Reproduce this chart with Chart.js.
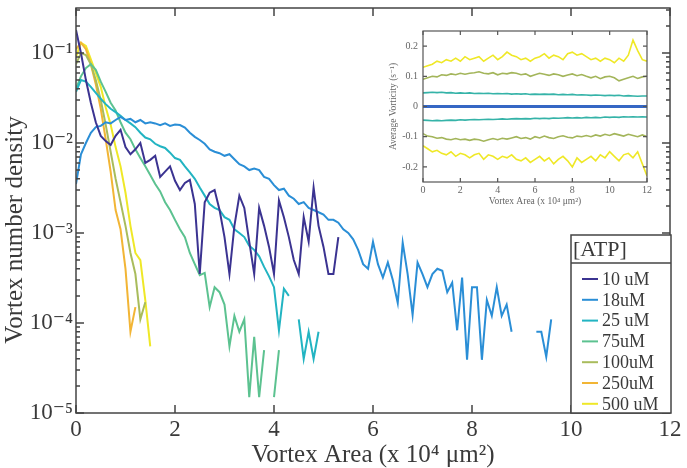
<!DOCTYPE html>
<html lang="en">
<head>
<meta charset="UTF-8">
<title>Vortex number density</title>
<script src="https://cdn.jsdelivr.net/npm/chart.js"></script>
<style>
    body { margin: 0; background: #fff; }
    .wrap { position: relative; width: 687px; height: 468px; }
    #mainChart { position: absolute; left: 0; top: 0; }
    #insetChart { position: absolute; left: 380px; top: 25px; }
</style>
</head>
<body>
<div class="wrap">
    <canvas id="mainChart" width="687" height="468"></canvas>
    <canvas id="insetChart" width="280" height="195"></canvas>
</div>
<script>
    // histogram bin width (x 10^4 um^2)
    const binStep = 0.1;

    const atpLabels = ['10 uM', '18uM', '25 uM', '75uM', '100uM', '250uM', '500 uM'];
    const atpColors = ['#3b3391', '#2a8ed6', '#22b4c2', '#5cc290', '#a9bc5c', '#f2b535', '#efe827'];

    const density10 = [0.18, 0.10, 0.05, 0.028, 0.017, 0.012, 0.0105, 0.0095, 0.012, 0.014,
        0.009, 0.0075, 0.0085, 0.010, 0.006, 0.0065, 0.0072, 0.0042, 0.0048, 0.0055,
        0.0038, 0.003, 0.0036, 0.0039, 0.0021, 0.00035, 0.0022, 0.0028, 0.0030, 0.0018,
        0.0009, 0.00035, 0.0012, 0.0026, 0.0019, 0.0008, 0.00035, 0.0019, 0.0012, 0.0007,
        0.00035, 0.0023, 0.0015, 0.0009, 0.0005, 0.00035, 0.0015, 0.0008, 0.0032, 0.0012,
        0.0007, 0.00035, 0.00035, 0.0009];
    const density18 = [0.0035, 0.0075, 0.010, 0.013, 0.015, 0.0155, 0.017, 0.0165, 0.018, 0.0195,
        0.018, 0.0185, 0.017, 0.018, 0.0165, 0.017, 0.0165, 0.0158, 0.0165, 0.0155,
        0.016, 0.0158, 0.0148, 0.013, 0.0117, 0.0108, 0.0098, 0.0085, 0.0080, 0.0077,
        0.0072, 0.0075, 0.0066, 0.0058, 0.0055, 0.0050, 0.0052, 0.0050, 0.0042, 0.0040,
        0.0034, 0.0030, 0.0031, 0.0026, 0.0024, 0.0021, 0.0022, 0.0019, 0.0018, 0.0017,
        0.0016, 0.0014, 0.0014, 0.0013, 0.0011, 0.0010, 0.00085, 0.00065, 0.00045, 0.0004,
        0.0008, 0.00045, 0.00032, 0.00047, 0.00030, 0.000167, 0.00078, 0.00035, 0.000123, 0.00047,
        0.00035, 0.00025, 0.00035, 0.0004, 0.00038, 0.00022, 0.00028, 0.000083, 0.00032, 0.000039,
        0.00025, 0.00025, 0.000039, 0.00018, 0.00012, 0.00025, 0.00012, 0.00016, 0.00008, null,
        null, null, null, 0.00008, 0.00008, 0.000042, 0.00011];
    const density25 = [0.037, 0.05, 0.048, 0.042, 0.036, 0.031, 0.027, 0.024, 0.022, 0.020,
        0.018, 0.0165, 0.015, 0.013, 0.0115, 0.011, 0.0098, 0.0092, 0.0088, 0.0078,
        0.0068, 0.0065, 0.0055, 0.0047, 0.0040, 0.0032, 0.0026, 0.0021, 0.0019, 0.0018,
        0.0015, 0.0014, 0.0011, 0.0010, 0.0009, 0.00072, 0.00065, 0.00055, 0.00042, 0.00033,
        0.00025, 0.000083, 0.00024, 0.0002, null, 0.00011, 0.00004, 0.00008, 0.00004, 0.00008];
    const density75 = [0.04, 0.055, 0.068, 0.075, 0.065, 0.048, 0.037, 0.028, 0.023, 0.017,
        0.013, 0.011, 0.0085, 0.0068, 0.0055, 0.0044, 0.0035, 0.0029, 0.0022, 0.0018,
        0.0014, 0.0011, 0.0009, 0.0006, 0.00045, 0.00034, 0.00036, 0.00015, 0.00025, 0.00022,
        0.00016, 0.000055, 0.00012, 0.00008, 0.00011, 0.000015, 0.00007, 0.000015, 0.00005, null,
        0.000015, 0.00005];
    const density100 = [0.075, 0.1, 0.095, 0.075, 0.05, 0.03, 0.016, 0.008, 0.004, 0.0022,
        0.0012, 0.0006, 0.00035, 0.00011, 0.00017];
    const density250 = [0.11, 0.13, 0.11, 0.075, 0.045, 0.024, 0.011, 0.0048, 0.0018, 0.0011,
        0.0004, 0.00008, 0.00015];
    const density500 = [0.09, 0.13, 0.12, 0.085, 0.06, 0.042, 0.025, 0.016, 0.009, 0.0055,
        0.0028, 0.0012, 0.0006, 0.0005, 0.00018, 0.000055];

    const yTickValues = [1e-5, 1e-4, 1e-3, 1e-2, 1e-1];
    const yTickLabels = ['10\u207B\u2075', '10\u207B\u2074', '10\u207B\u00B3', '10\u207B\u00B2', '10\u207B\u00B9'];

    // inset: average vorticity vs vortex area
    const insetStep = 0.25;
    const vortYellowUp = [0.13, 0.135, 0.14, 0.15, 0.145, 0.155, 0.15, 0.16, 0.15, 0.165,
        0.155, 0.16, 0.165, 0.15, 0.16, 0.17, 0.155, 0.165, 0.18, 0.17,
        0.165, 0.155, 0.16, 0.15, 0.16, 0.165, 0.175, 0.16, 0.17, 0.165,
        0.155, 0.175, 0.18, 0.17, 0.175, 0.165, 0.155, 0.16, 0.15, 0.16,
        0.155, 0.145, 0.16, 0.15, 0.17, 0.22, 0.185, 0.155, 0.15];
    const vortYellowDown = [-0.13, -0.14, -0.15, -0.145, -0.155, -0.16, -0.15, -0.165, -0.155, -0.16,
        -0.17, -0.16, -0.155, -0.175, -0.16, -0.165, -0.175, -0.165, -0.17, -0.16,
        -0.175, -0.18, -0.17, -0.185, -0.175, -0.165, -0.18, -0.17, -0.19, -0.175,
        -0.165, -0.18, -0.2, -0.17, -0.185, -0.175, -0.165, -0.18, -0.16, -0.17,
        -0.15, -0.165, -0.18, -0.16, -0.155, -0.17, -0.15, -0.19, -0.23];
    const vortOliveUp = [0.09, 0.095, 0.1, 0.098, 0.105, 0.103, 0.108, 0.105, 0.11, 0.107,
        0.11, 0.112, 0.115, 0.11, 0.108, 0.112, 0.105, 0.11, 0.108, 0.112,
        0.11, 0.105, 0.108, 0.1, 0.105, 0.11, 0.107, 0.103, 0.108, 0.105,
        0.1, 0.104, 0.108, 0.102, 0.106, 0.1, 0.095, 0.1, 0.092, 0.098,
        0.1, 0.095, 0.085, 0.09, 0.095, 0.1, 0.093, 0.098, 0.1];
    const vortOliveDown = [-0.09, -0.098, -0.1, -0.105, -0.103, -0.108, -0.11, -0.106, -0.11, -0.108,
        -0.112, -0.108, -0.11, -0.115, -0.11, -0.106, -0.11, -0.105, -0.108, -0.104,
        -0.1, -0.106, -0.103, -0.108, -0.1, -0.104, -0.098, -0.103, -0.106, -0.1,
        -0.097, -0.102, -0.104, -0.098, -0.1, -0.096, -0.1, -0.094, -0.098, -0.092,
        -0.096, -0.09, -0.094, -0.098, -0.092, -0.096, -0.1, -0.094, -0.1];
    const vortTealUp = [0.045, 0.046, 0.047, 0.046, 0.047, 0.045, 0.046, 0.044, 0.045, 0.044,
        0.045, 0.043, 0.044, 0.043, 0.044, 0.042, 0.043, 0.042, 0.043, 0.041,
        0.042, 0.041, 0.042, 0.04, 0.041, 0.04, 0.041, 0.04, 0.041, 0.039,
        0.04, 0.039, 0.04, 0.038, 0.039, 0.038, 0.037, 0.038, 0.037, 0.036,
        0.037, 0.036, 0.037, 0.035, 0.036, 0.035, 0.034, 0.035, 0.035];
    const vortTealDown = [-0.045, -0.046, -0.047, -0.046, -0.047, -0.046, -0.045, -0.046, -0.044, -0.045,
        -0.044, -0.043, -0.044, -0.043, -0.042, -0.043, -0.042, -0.041, -0.042, -0.041,
        -0.04, -0.041, -0.04, -0.041, -0.039, -0.04, -0.039, -0.04, -0.038, -0.039,
        -0.038, -0.037, -0.038, -0.037, -0.038, -0.036, -0.037, -0.036, -0.037, -0.035,
        -0.036, -0.035, -0.036, -0.034, -0.035, -0.034, -0.035, -0.034, -0.035];
    const vortZero = [0, 0, 0, 0, 0, 0, 0];

    const serif = '"Liberation Serif", "DejaVu Serif", serif';
    const textColor = '#3a3a3a';

    function toPoints(values, step) {
        return values.map((v, i) => ({ x: +(i * step).toFixed(3), y: v }));
    }

    // chart.js pads the axes for half of the end labels; we place the box by hand
    function fixWidth(w) {
        return s => { s.width = w; s.paddingTop = 0; s.paddingBottom = 0; };
    }
    function fixHeight(h) {
        return s => { s.height = h; s.paddingLeft = 0; s.paddingRight = 0; };
    }

    // box round the plot with inward ticks (matlab look)
    function axisFrame(opts) {
        return {
            id: 'axisFrame',
            afterDatasetsDraw(chart) {
                const { ctx, chartArea: a, scales } = chart;
                ctx.save();
                ctx.strokeStyle = opts.color;
                ctx.lineWidth = opts.width;
                ctx.strokeRect(a.left, a.top, a.right - a.left, a.bottom - a.top);
                ctx.beginPath();
                scales.x.ticks.forEach(t => {
                    const px = scales.x.getPixelForValue(t.value);
                    ctx.moveTo(px, a.bottom); ctx.lineTo(px, a.bottom - opts.major);
                    ctx.moveTo(px, a.top); ctx.lineTo(px, a.top + opts.major);
                });
                opts.yTicks(scales.y).forEach(([v, len]) => {
                    const py = scales.y.getPixelForValue(v);
                    ctx.moveTo(a.left, py); ctx.lineTo(a.left + len, py);
                    ctx.moveTo(a.right, py); ctx.lineTo(a.right - len, py);
                });
                ctx.stroke();
                ctx.restore();
            }
        };
    }

    // y title sits a little below the middle in the original
    const yTitle = {
        id: 'yTitle',
        afterDraw(chart) {
            const ctx = chart.ctx;
            ctx.save();
            ctx.translate(15, 230);
            ctx.rotate(-Math.PI / 2);
            ctx.font = '25px ' + serif;
            ctx.fillStyle = textColor;
            ctx.textAlign = 'center';
            ctx.textBaseline = 'middle';
            ctx.fillText('Vortex number density', 0, 0);
            ctx.restore();
        }
    };

    const atpLegend = {
        id: 'atpLegend',
        afterDraw(chart) {
            const { ctx, chartArea: a } = chart;
            const w = 100, h = 178;
            const x0 = a.right - w + 1, y0 = a.bottom - h;
            ctx.save();
            ctx.fillStyle = '#fff';
            ctx.fillRect(x0, y0, w, h);
            ctx.strokeStyle = '#444';
            ctx.lineWidth = 1.5;
            ctx.strokeRect(x0, y0, w, h);
            ctx.beginPath();
            ctx.moveTo(x0, y0 + 28); ctx.lineTo(x0 + w, y0 + 28);
            ctx.stroke();
            ctx.fillStyle = textColor;
            ctx.textBaseline = 'middle';
            ctx.font = '22px ' + serif;
            ctx.fillText('[ATP]', x0 + 2, y0 + 15);
            ctx.font = '18px ' + serif;
            chart.data.datasets.forEach((ds, i) => {
                const y = y0 + 44 + i * 20.8;
                ctx.strokeStyle = ds.borderColor;
                ctx.lineWidth = 2;
                ctx.beginPath();
                ctx.moveTo(x0 + 11, y); ctx.lineTo(x0 + 27, y);
                ctx.stroke();
                ctx.fillText(ds.label, x0 + 31, y + 1);
            });
            ctx.restore();
        }
    };

    const mainSeries = [density10, density18, density25, density75, density100, density250, density500];

    new Chart(document.getElementById('mainChart'), {
        type: 'line',
        data: {
            datasets: mainSeries.map((vals, i) => ({
                label: atpLabels[i],
                data: toPoints(vals, binStep),
                borderColor: atpColors[i],
                borderWidth: 2,
                pointRadius: 0,
                tension: 0,
                spanGaps: false
            }))
        },
        options: {
            responsive: false,
            animation: false,
            layout: { padding: { top: 8, right: 17, left: 0, bottom: 0 } },
            plugins: { legend: { display: false }, tooltip: { enabled: false } },
            scales: {
                x: {
                    type: 'linear',
                    min: 0, max: 12,
                    grid: { display: false, drawTicks: false },
                    border: { display: false },
                    ticks: { stepSize: 2, padding: 3, color: textColor, font: { family: serif, size: 23 }, maxRotation: 0 },
                    title: {
                        display: true,
                        text: 'Vortex Area (x 10\u2074 \u03BCm\u00B2)',
                        color: textColor,
                        font: { family: serif, size: 25 },
                        padding: { top: 0, bottom: -2 }
                    },
                    afterFit: fixHeight(55)
                },
                y: {
                    type: 'logarithmic',
                    min: 1e-5, max: 0.316,
                    grid: { display: false, drawTicks: false },
                    border: { display: false },
                    afterBuildTicks: s => { s.ticks = yTickValues.map(v => ({ value: v })); },
                    ticks: {
                        autoSkip: false,
                        padding: 3,
                        color: textColor,
                        font: { family: serif, size: 23 },
                        callback: (v) => yTickLabels[yTickValues.indexOf(v)]
                    },
                    afterFit: fixWidth(76)
                }
            }
        },
        plugins: [axisFrame({
            color: '#444', width: 1.5, major: 8,
            yTicks: () => {
                const list = [];
                for (let e = -5; e <= -1; e++) {
                    for (let m = 1; m <= 9; m++) {
                        const v = m * Math.pow(10, e);
                        if (v <= 0.316) list.push([v, m === 1 ? 8 : 4]);
                    }
                }
                return list;
            }
        }), yTitle, atpLegend]
    });

    const insetSeries = [
        { data: vortYellowUp, color: atpColors[6], width: 1.6, step: insetStep },
        { data: vortYellowDown, color: atpColors[6], width: 1.6, step: insetStep },
        { data: vortOliveUp, color: '#a3b55a', width: 1.6, step: insetStep },
        { data: vortOliveDown, color: '#a3b55a', width: 1.6, step: insetStep },
        { data: vortTealUp, color: '#35b3a8', width: 1.6, step: insetStep },
        { data: vortTealDown, color: '#35b3a8', width: 1.6, step: insetStep },
        { data: vortZero, color: '#3567c4', width: 3, step: 2 }
    ];

    new Chart(document.getElementById('insetChart'), {
        type: 'line',
        data: {
            datasets: insetSeries.map(s => ({
                data: toPoints(s.data, s.step),
                borderColor: s.color,
                borderWidth: s.width,
                pointRadius: 0,
                tension: 0
            }))
        },
        options: {
            responsive: false,
            animation: false,
            layout: { padding: { top: 6, right: 13, left: 0, bottom: 0 } },
            plugins: { legend: { display: false }, tooltip: { enabled: false } },
            scales: {
                x: {
                    type: 'linear',
                    min: 0, max: 12,
                    grid: { display: false, drawTicks: false },
                    border: { display: false },
                    ticks: { stepSize: 2, padding: 2, color: '#666', font: { family: serif, size: 10 }, maxRotation: 0 },
                    title: {
                        display: true,
                        text: 'Vortex Area (x 10\u2074 \u03BCm\u00B2)',
                        color: '#666',
                        font: { family: serif, size: 9.5 },
                        padding: { top: 0, bottom: 13 }
                    },
                    afterFit: fixHeight(38)
                },
                y: {
                    type: 'linear',
                    min: -0.25, max: 0.25,
                    grid: { display: false, drawTicks: false },
                    border: { display: false },
                    afterBuildTicks: s => { s.ticks = [-0.2, -0.1, 0, 0.1, 0.2].map(v => ({ value: v })); },
                    ticks: { padding: 5, color: '#666', font: { family: serif, size: 10 } },
                    title: {
                        display: true,
                        text: 'Average Vorticity (s\u207B\u00B9)',
                        color: '#666',
                        font: { family: serif, size: 9.5 },
                        padding: { top: 8, bottom: 0 }
                    },
                    afterFit: fixWidth(43)
                }
            }
        },
        plugins: [axisFrame({
            color: '#555', width: 1.2, major: 4,
            yTicks: s => s.ticks.map(t => [t.value, 4])
        })]
    });
</script>
</body>
</html>
